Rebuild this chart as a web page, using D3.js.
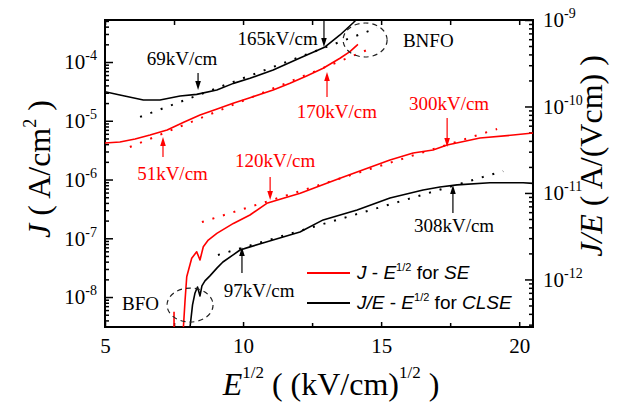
<!DOCTYPE html>
<html>
<head>
<meta charset="utf-8">
<script src="https://cdn.jsdelivr.net/npm/d3@7"></script>
<style>
  body { margin: 0; background: #fff; }
  svg { display: block; }
  .serif { font-family: "Liberation Serif", "Times New Roman", Times, "DejaVu Serif", serif; }
  .sans { font-family: "Liberation Sans", Arial, Helvetica, sans-serif; }
</style>
</head>
<body>
<svg id="chart" width="627" height="405"></svg>
<script>
// ---- data ----
// BNFO, J - E^1/2 (left axis, A/cm^2)
const bnfoSE_E = [5.00, 5.54, 6.09, 6.63, 7.25, 7.83, 8.44, 9.06, 9.64, 10.25, 11.09, 11.70, 12.32, 12.90, 13.51, 13.87, 14.16];
const bnfoSE_J = [4.18e-6, 4.35e-6, 4.89e-6, 5.71e-6, 6.97e-6, 9.33e-6, 1.25e-5, 1.58e-5, 1.98e-5, 2.47e-5, 3.33e-5, 4.34e-5, 5.85e-5, 7.82e-5, 1.16e-4, 1.50e-4, 2.00e-4];
// BNFO, J/E - E^1/2 (right axis, A/(Vcm))
const bnfoCL_E = [5.00, 5.54, 6.39, 6.99, 7.72, 8.32, 9.05, 9.65, 10.25, 11.09, 12.06, 12.97, 13.51, 13.98, 14.09];
const bnfoCL_JE = [1.48e-10, 1.36e-10, 1.19e-10, 1.19e-10, 1.32e-10, 1.38e-10, 1.55e-10, 1.85e-10, 2.12e-10, 2.64e-10, 3.64e-10, 4.88e-10, 6.71e-10, 9.23e-10, 1.00e-9];
// BFO, J - E^1/2 (left axis)
const bfoSE_E = [7.84, 7.90, 7.96, 8.14, 8.32, 8.44, 8.56, 8.74, 9.05, 9.65, 10.25, 10.86, 11.46, 12.07, 13.51, 15.32, 16.16, 16.88, 17.39, 18.58, 19.78, 20.50];
const bfoSE_J = [3.08e-9, 8.89e-9, 2.22e-8, 4.56e-8, 5.90e-8, 4.27e-8, 7.18e-8, 9.33e-8, 1.21e-7, 1.79e-7, 2.49e-7, 3.94e-7, 4.79e-7, 5.82e-7, 1.05e-6, 2.15e-6, 2.82e-6, 3.18e-6, 3.86e-6, 5.08e-6, 5.71e-6, 6.18e-6];
const bfoSpike_E = [7.50, 7.50];
const bfoSpike_J = [5.6e-9, 3.0e-9];
// BFO, J/E - E^1/2 (right axis)
const bfoCL_E = [8.08, 8.17, 8.26, 8.35, 8.44, 8.51, 8.62, 8.80, 9.06, 9.27, 9.64, 9.89, 10.25, 10.87, 11.45, 12.06, 12.90, 14.13, 15.32, 16.52, 17.13, 17.75, 18.94, 20.14, 20.50];
const bfoCL_JE = [2.82e-13, 5.07e-13, 6.98e-13, 8.18e-13, 6.44e-13, 8.41e-13, 9.62e-13, 1.10e-12, 1.36e-12, 1.59e-12, 1.92e-12, 2.19e-12, 2.38e-12, 2.72e-12, 3.10e-12, 3.54e-12, 4.88e-12, 6.35e-12, 8.75e-12, 1.08e-11, 1.17e-11, 1.24e-11, 1.31e-11, 1.31e-11, 1.29e-11];
// linear fits (dotted)
const fitBnfoSE_E = [5.90, 14.49], fitBnfoSE_J = [3.57e-6, 1.60e-4];
const fitBnfoCL_E = [6.27, 14.85], fitBnfoCL_JE = [7.57e-11, 8.09e-10];
const fitBfoSE_E = [8.51, 19.20], fitBfoSE_J = [1.89e-7, 7.24e-6];
const fitBfoCL_E = [9.09, 19.42], fitBfoCL_JE = [1.92e-12, 1.79e-11];

// annotations (x in E^1/2, y in left-axis units)
const arrowLabels = ["69kV/cm", "165kV/cm", "170kV/cm", "51kV/cm", "120kV/cm", "300kV/cm", "308kV/cm", "97kV/cm"];
const arrowColors = ["#000", "#000", "#f00", "#f00", "#f00", "#f00", "#000", "#000"];
const arrowX = [8.37, 12.93, 13.04, 7.10, 10.98, 17.39, 17.60, 9.96];
const arrowTail = [6.50e-5, 5.19e-4, 2.54e-5, 2.42e-6, 1.10e-6, 1.11e-5, 2.69e-7, 2.56e-8];
const arrowTip = [3.33e-5, 1.80e-4, 6.76e-5, 5.28e-6, 4.48e-7, 3.57e-6, 8.05e-7, 7.10e-8];
const labelX = [7.79, 11.25, 13.40, 7.445, 11.16, 17.46, 17.64, 10.58];
const labelY = [8.89e-5, 1.95e-4, 1.11e-5, 9.80e-7, 1.63e-6, 1.52e-5, 1.28e-7, 1.0e-8];

const xTicks = [5, 10, 15, 20];
const xMinor = [7.5, 12.5, 17.5];
const yLTicks = [1e-8, 1e-7, 1e-6, 1e-5, 1e-4];
const yRTicks = [1e-12, 1e-11, 1e-10, 1e-9];

// ---- layout ----
const svg = d3.select("#chart");
const box = { left: 105, right: 533, top: 20, bottom: 327 };

const x = d3.scaleLinear().domain([5, 20.5]).range([box.left, box.right]);
const yL = d3.scaleLog().domain([Math.pow(10, -8.51), Math.pow(10, -3.285)]).range([box.bottom, box.top]);
const yR = d3.scaleLog().domain([Math.pow(10, -12.55), 1e-9]).range([box.bottom, box.top]);

function minors(lo, hi, dom) {
  const out = [];
  for (let d = lo; d <= hi; d++)
    for (let m = 2; m <= 9; m++) {
      const v = m * Math.pow(10, d);
      if (v > dom[0] && v < dom[1]) out.push(v);
    }
  return out;
}

function supLabels(g) {
  g.selectAll(".tick text").each(function (d) {
    const t = d3.select(this);
    t.text(null);
    t.append("tspan").text("10");
    t.append("tspan").attr("dy", -9).attr("font-size", 14).text(Math.round(Math.log10(d)));
  });
}

function styleAxis(g) {
  g.attr("font-family", null);
  g.select(".domain").remove();
  g.selectAll(".tick line").attr("stroke", "#000").attr("stroke-width", 1.5);
  g.selectAll("text").attr("class", "serif").attr("font-size", 21).attr("fill", "#000");
}

// bottom & top axes
svg.append("g").attr("transform", `translate(0,${box.bottom})`)
  .call(d3.axisBottom(x).tickValues(xTicks).tickSize(-5).tickPadding(11).tickFormat(d3.format("d")))
  .call(styleAxis);
svg.append("g").attr("transform", `translate(0,${box.bottom})`)
  .call(d3.axisBottom(x).tickValues(xMinor).tickSize(-4).tickFormat(""))
  .call(styleAxis);
svg.append("g").attr("transform", `translate(0,${box.top})`)
  .call(d3.axisTop(x).tickValues(xTicks.concat(xMinor)).tickSize(-5).tickFormat(""))
  .call(styleAxis);

// left axis
svg.append("g").attr("transform", `translate(${box.left},0)`)
  .call(d3.axisLeft(yL).tickValues(yLTicks).tickSize(-8).tickPadding(8).tickFormat(d => d))
  .call(styleAxis).call(supLabels);
svg.append("g").attr("transform", `translate(${box.left},0)`)
  .call(d3.axisLeft(yL).tickValues(minors(-9, -4, yL.domain())).tickSize(-4).tickFormat(""))
  .call(styleAxis);

// right axis
svg.append("g").attr("transform", `translate(${box.right},0)`)
  .call(d3.axisRight(yR).tickValues(yRTicks).tickSize(-8).tickPadding(10).tickFormat(d => d))
  .call(styleAxis).call(supLabels);
svg.append("g").attr("transform", `translate(${box.right},0)`)
  .call(d3.axisRight(yR).tickValues(minors(-13, -10, yR.domain())).tickSize(-4).tickFormat(""))
  .call(styleAxis);

// frame
svg.append("rect")
  .attr("x", box.left).attr("y", box.top)
  .attr("width", box.right - box.left).attr("height", box.bottom - box.top)
  .attr("fill", "none").attr("stroke", "#000").attr("stroke-width", 2);

// clip
svg.append("clipPath").attr("id", "plot-clip")
  .append("rect").attr("x", box.left).attr("y", box.top)
  .attr("width", box.right - box.left).attr("height", box.bottom - box.top);
const plot = svg.append("g").attr("clip-path", "url(#plot-clip)");

function drawSeries(xs, ys, yScale, color, dotted) {
  const pts = xs.map((v, i) => [v, ys[i]]);
  const line = d3.line().x(d => x(d[0])).y(d => yScale(d[1]));
  const p = plot.append("path")
    .attr("d", line(pts))
    .attr("fill", "none")
    .attr("stroke", color);
  if (dotted) {
    p.attr("stroke-width", 2).attr("stroke-dasharray", "2,9").attr("stroke-linecap", "butt");
  } else {
    p.attr("stroke-width", 1.6).attr("stroke-linejoin", "round");
  }
}

// fits first, curves on top
drawSeries(fitBnfoSE_E, fitBnfoSE_J, yL, "#f00", true);
drawSeries(fitBfoSE_E, fitBfoSE_J, yL, "#f00", true);
drawSeries(fitBnfoCL_E, fitBnfoCL_JE, yR, "#000", true);
drawSeries(fitBfoCL_E, fitBfoCL_JE, yR, "#000", true);

drawSeries(bnfoSE_E, bnfoSE_J, yL, "#f00", false);
drawSeries(bfoSE_E, bfoSE_J, yL, "#f00", false);
drawSeries(bfoSpike_E, bfoSpike_J, yL, "#f00", false);
drawSeries(bnfoCL_E, bnfoCL_JE, yR, "#000", false);
drawSeries(bfoCL_E, bfoCL_JE, yR, "#000", false);

// dashed ellipses around the sample groups
const ellipses = [
  { cx: 14.42, cy: 2.37e-4, rx: 22, ry: 17 },
  { cx: 8.08, cy: 7.31e-9, rx: 23, ry: 17 }
];
svg.selectAll(".ell").data(ellipses).enter().append("ellipse")
  .attr("cx", d => x(d.cx)).attr("cy", d => yL(d.cy))
  .attr("rx", d => d.rx).attr("ry", d => d.ry)
  .attr("fill", "none").attr("stroke", "#222")
  .attr("stroke-width", 1.2).attr("stroke-dasharray", "5,4");

svg.append("text").attr("class", "serif").attr("x", x(15.79)).attr("y", yL(1.80e-4))
  .attr("font-size", 19).text("BNFO");
svg.append("text").attr("class", "serif").attr("x", x(5.616)).attr("y", yL(6.01e-9))
  .attr("font-size", 19).text("BFO");

// arrows and labels
arrowLabels.forEach((lab, i) => {
  const ax = x(arrowX[i]);
  const y0 = yL(arrowTail[i]), y1 = yL(arrowTip[i]);
  const dir = Math.sign(y1 - y0);
  const col = arrowColors[i];
  svg.append("line")
    .attr("x1", ax).attr("x2", ax)
    .attr("y1", y0).attr("y2", y1 - dir * 6)
    .attr("stroke", col).attr("stroke-width", 1.2);
  svg.append("path")
    .attr("d", `M${ax},${y1} L${ax - 2.8},${y1 - dir * 9} L${ax + 2.8},${y1 - dir * 9} Z`)
    .attr("fill", col);
  svg.append("text").attr("class", "serif")
    .attr("x", x(labelX[i])).attr("y", yL(labelY[i]))
    .attr("text-anchor", "middle")
    .attr("font-size", 19)
    .attr("fill", col).text(lab);
});

// legend
const legendColors = ["#f00", "#000"];
const legendY = [273, 303];
const legendParts = [
  [["J", true], [" - ", false], ["E", true], ["1/2", "sup"], [" for ", false], ["SE", true]],
  [["J/E", true], [" - ", false], ["E", true], ["1/2", "sup"], [" for ", false], ["CLSE", true]]
];
legendParts.forEach((parts, i) => {
  svg.append("line")
    .attr("x1", 307).attr("x2", 350)
    .attr("y1", legendY[i]).attr("y2", legendY[i])
    .attr("stroke", legendColors[i]).attr("stroke-width", 2);
  const t = svg.append("text").attr("class", "sans")
    .attr("x", 357).attr("y", legendY[i] + 6)
    .attr("font-size", 19).attr("fill", "#000")
    .style("white-space", "pre");
  let raised = false;
  parts.forEach(([s, kind]) => {
    const ts = t.append("tspan").text(s);
    if (kind === "sup") {
      ts.attr("font-size", 11).attr("dy", -8);
      raised = true;
    } else {
      if (raised) { ts.attr("dy", 8); raised = false; }
      if (kind === true) ts.attr("font-style", "italic");
    }
  });
});

// axis titles
const xt = svg.append("text").attr("class", "serif")
  .attr("x", 331).attr("y", 395).attr("text-anchor", "middle")
  .attr("font-size", 32)
  .style("white-space", "pre");
xt.append("tspan").attr("font-style", "italic").text("E");
xt.append("tspan").attr("font-size", 17).attr("dy", -17).text("1/2");
xt.append("tspan").attr("dy", 17).text(" ( (kV/cm)");
xt.append("tspan").attr("font-size", 17).attr("dy", -17).text("1/2");
xt.append("tspan").attr("dy", 17).text(" )");

const yt = svg.append("text").attr("class", "serif")
  .attr("transform", "translate(50,169) rotate(-90)")
  .attr("text-anchor", "middle")
  .attr("font-size", 32)
  .style("white-space", "pre");
yt.append("tspan").attr("font-style", "italic").text("J");
yt.append("tspan").text(" ( A/cm");
yt.append("tspan").attr("font-size", 18).attr("dy", -14).text("2");
yt.append("tspan").attr("dy", 14).text(" )");

const yt2 = svg.append("text").attr("class", "serif")
  .attr("transform", "translate(602,156) rotate(-90)")
  .attr("text-anchor", "middle")
  .attr("font-size", 32)
  .style("white-space", "pre");
yt2.append("tspan").attr("font-style", "italic").text("J/E");
yt2.append("tspan").text(" ( A/(Vcm) )");
</script>
</body>
</html>
